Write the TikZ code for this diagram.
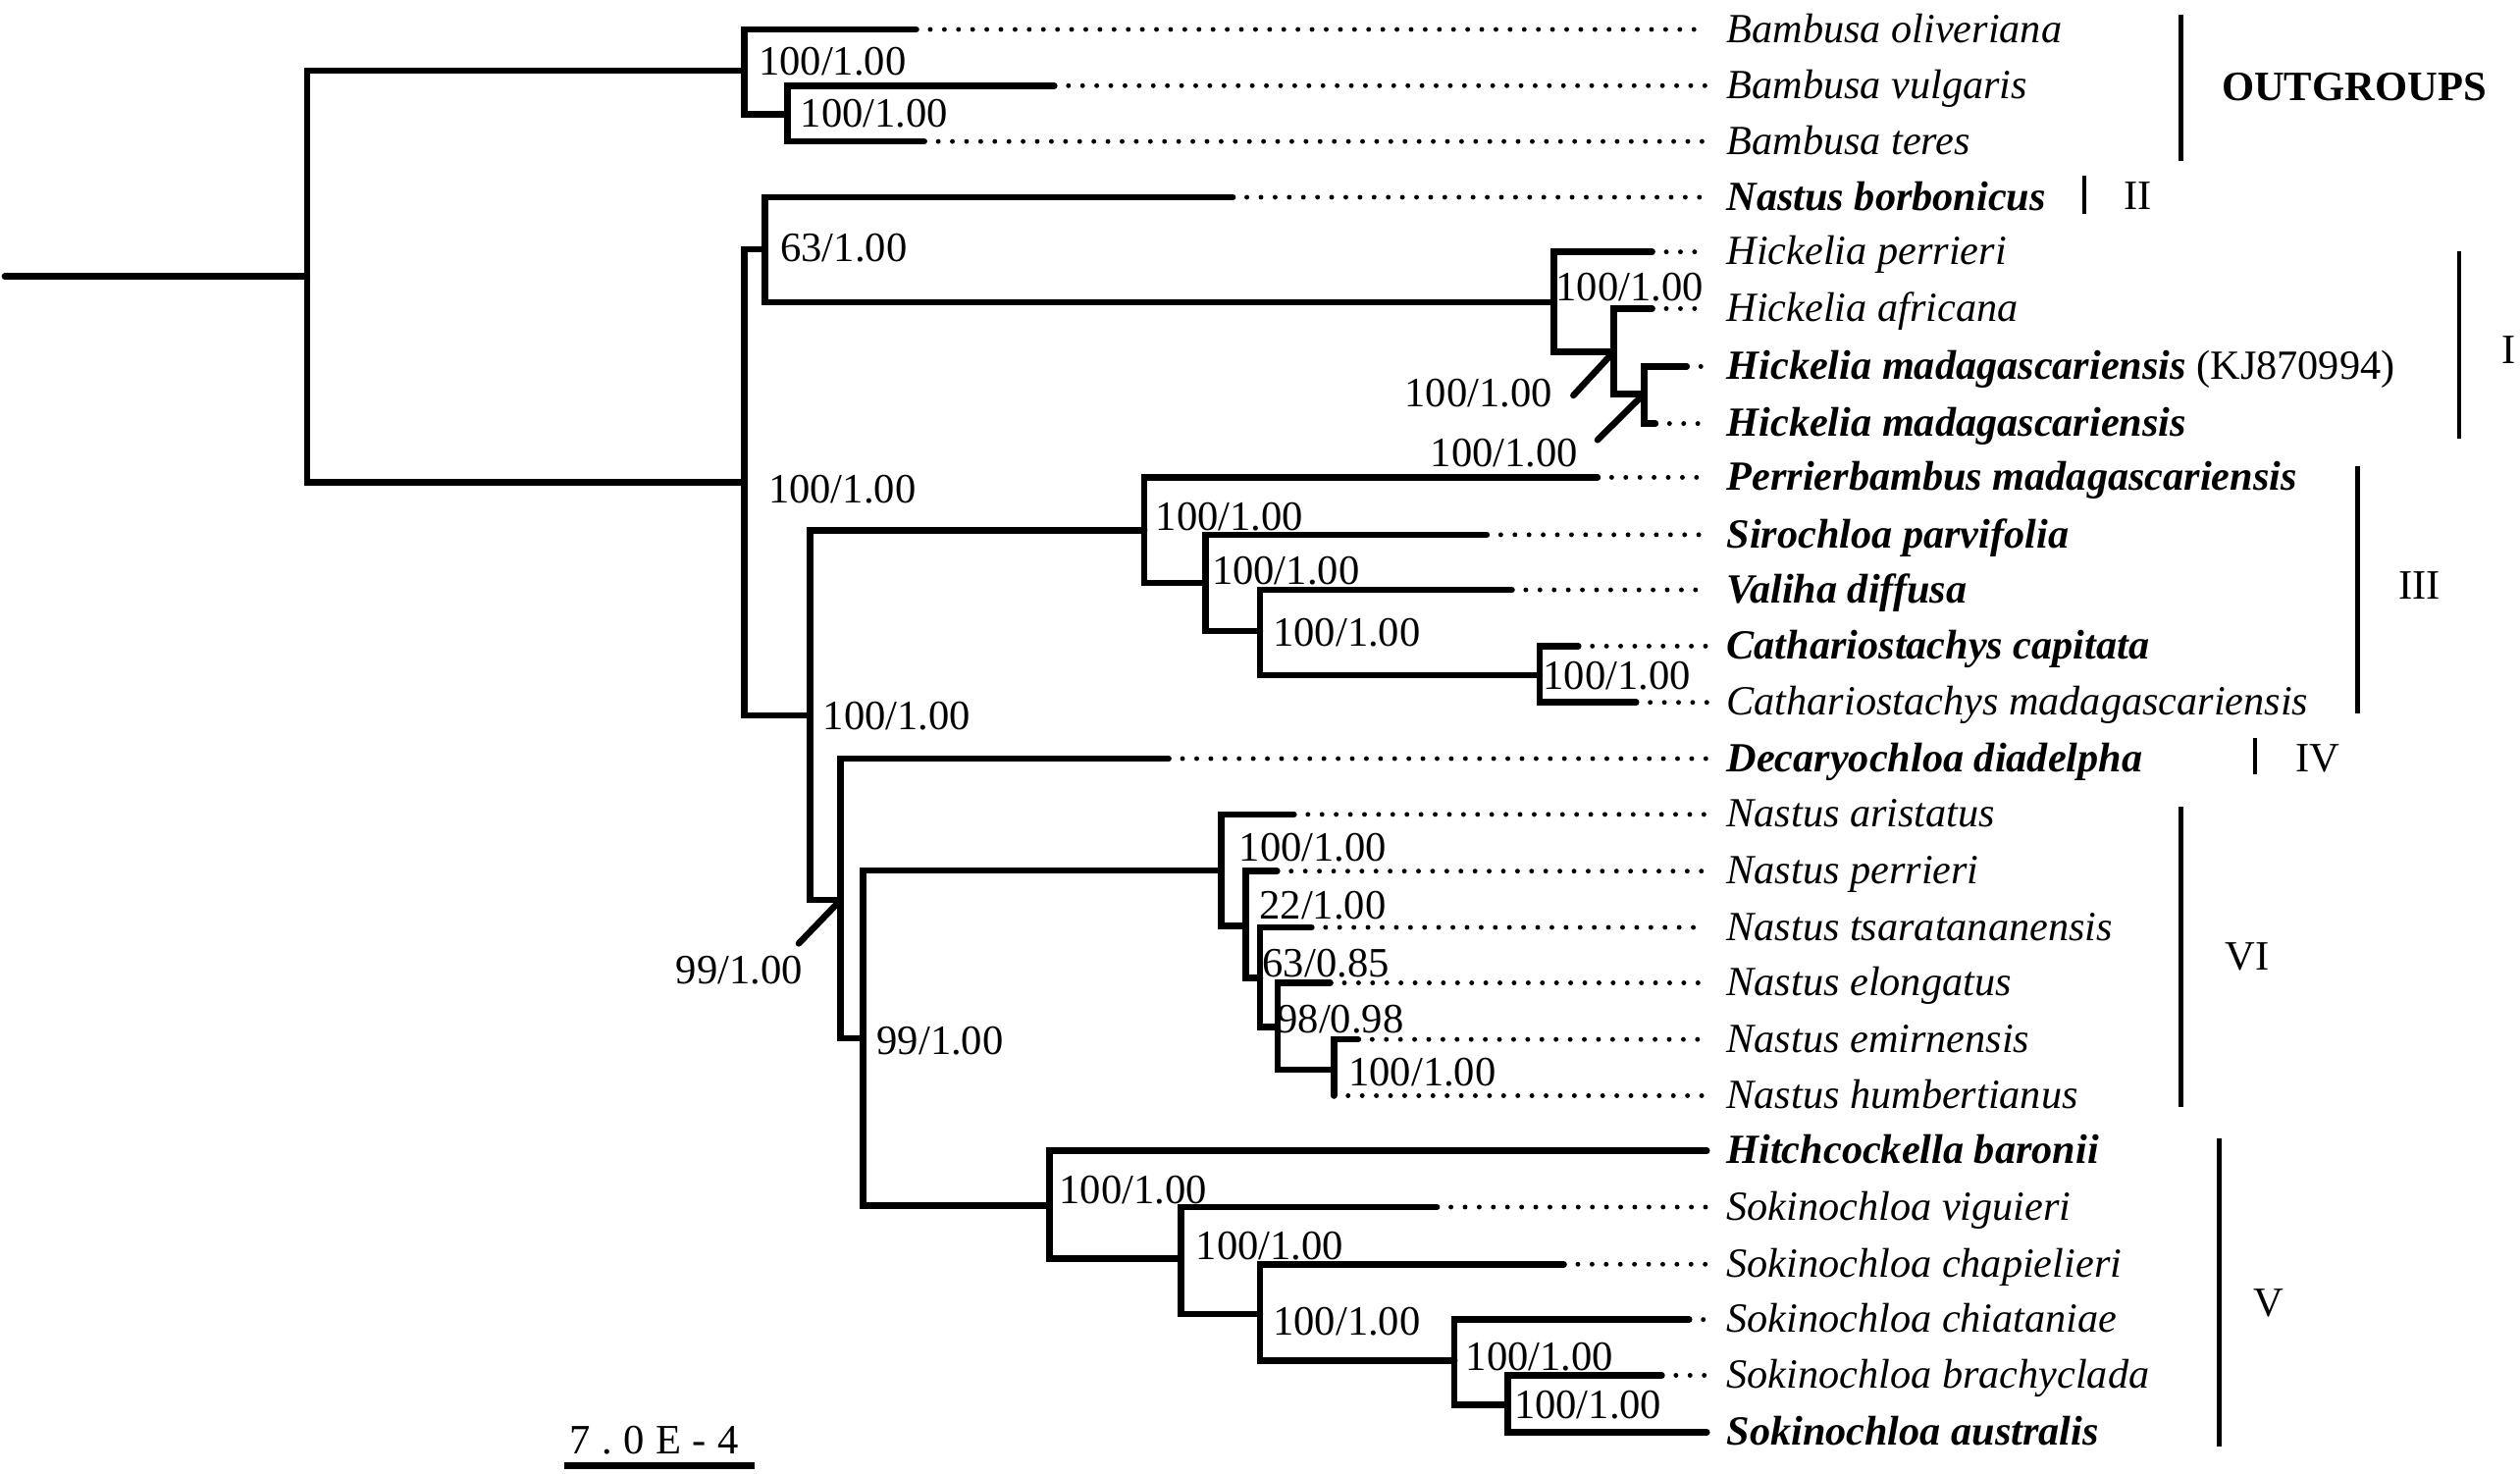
\documentclass[tikz,border=0pt]{standalone}
\usepackage{fontspec}
\setmainfont{Liberation Serif}
\usetikzlibrary{positioning}

\begin{document}
\begin{tikzpicture}[
    x=0.5pt, y=-0.5pt,
    branch/.style={line width=2pt, line cap=round},
    dots/.style={line width=1.5pt, line cap=round, dash pattern=on 0pt off 4.4pt},
    bar/.style={line width=1.4pt},
    taxon/.style={anchor=west, inner xsep=6pt, inner ysep=0pt, text height=10pt, text depth=2pt, font=\fontsize{12.9}{15}\selectfont\itshape},
    boot/.style={inner sep=0pt, text height=8.8pt, text depth=0pt, font=\fontsize{13}{15}\selectfont},
    group/.style={anchor=west, inner sep=0pt, font=\fontsize{13}{15}\selectfont}
]
\useasboundingbox (0,0) rectangle (1568,917);
% Taxa
\node[taxon] (t1) at (1062,18.3) {Bambusa oliveriana};
\node[taxon] (t2) at (1062,53.3) {Bambusa vulgaris};
\node[taxon] (t3) at (1062,88) {Bambusa teres};
\node[taxon] (t4) at (1062,122.7) {\textbf{Nastus borbonicus}};
\node[taxon] (t5) at (1062,156.7) {Hickelia perrieri};
\node[taxon] (t6) at (1062,192) {Hickelia africana};
\node[taxon] (t7) at (1062,228) {\textbf{Hickelia madagascariensis} \textup{(KJ870994)}};
\node[taxon] (t8) at (1062,263.5) {\textbf{Hickelia madagascariensis}};
\node[taxon] (t9) at (1062,297) {\textbf{Perrierbambus madagascariensis}};
\node[taxon] (t10) at (1062,332.7) {\textbf{Sirochloa parvifolia}};
\node[taxon] (t11) at (1062,367) {\textbf{Valiha diffusa}};
\node[taxon] (t12) at (1062,402) {\textbf{Cathariostachys capitata}};
\node[taxon] (t13) at (1062,437) {Cathariostachys madagascariensis};
\node[taxon] (t14) at (1062,472) {\textbf{Decaryochloa diadelpha}};
\node[taxon] (t15) at (1062,506.7) {Nastus aristatus};
\node[taxon] (t16) at (1062,542) {Nastus perrieri};
\node[taxon] (t17) at (1062,577) {Nastus tsaratananensis};
\node[taxon] (t18) at (1062,611.5) {Nastus elongatus};
\node[taxon] (t19) at (1062,646.7) {Nastus emirnensis};
\node[taxon] (t20) at (1062,681.7) {Nastus humbertianus};
\node[taxon] (t21) at (1062,716) {\textbf{Hitchcockella baronii}};
\node[taxon] (t22) at (1062,751) {Sokinochloa viguieri};
\node[taxon] (t23) at (1062,786.6) {Sokinochloa chapielieri};
\node[taxon] (t24) at (1062,821) {Sokinochloa chiataniae};
\node[taxon] (t25) at (1062,855.7) {Sokinochloa brachyclada};
\node[taxon] (t26) at (1062,891) {\textbf{Sokinochloa australis}};

% Internal nodes
\coordinate (r0) at (3,172);
\coordinate (nR) at (191,172);
\coordinate (nOut) at (463,44);
\coordinate (nB2) at (490,71);
\coordinate (nIn) at (463,300);
\coordinate (nA) at (476,155);
\coordinate (nH) at (967,188);
\coordinate (nH2) at (1004,219);
\coordinate (nH3) at (1023,245);
\coordinate (nB) at (504,445);
\coordinate (nIII) at (712,330);
\coordinate (nS) at (750,362.6);
\coordinate (nV) at (784,392.7);
\coordinate (nC) at (958,420);
\coordinate (nD) at (523,560);
\coordinate (nE) at (537,646);
\coordinate (nVI) at (760,541.6);
\coordinate (nN2) at (775,576);
\coordinate (nN3) at (784,608.5);
\coordinate (nN4) at (795,639);
\coordinate (nN5) at (830,665.5);
\coordinate (nVg) at (653,750);
\coordinate (nS2) at (735,783);
\coordinate (nS3) at (784,817.6);
\coordinate (nS4) at (905,846.6);
\coordinate (nS5) at (938,874);

% Branch ends
\coordinate (e1) at (570,18.3);
\coordinate (e2) at (656,53.3);
\coordinate (e3) at (575,88);
\coordinate (e4) at (767,122.7);
\coordinate (e5) at (1028,156.7);
\coordinate (e6) at (1028,192);
\coordinate (e7) at (1049.5,228);
\coordinate (e8) at (1030,263.5);
\coordinate (e9) at (994,297);
\coordinate (e10) at (925,332.7);
\coordinate (e11) at (940.6,367);
\coordinate (e12) at (982,402);
\coordinate (e13) at (1018,437);
\coordinate (e14) at (727,472);
\coordinate (e15) at (805,506.7);
\coordinate (e16) at (794.6,542);
\coordinate (e17) at (816,577);
\coordinate (e18) at (827.7,611.5);
\coordinate (e19) at (845,646.7);
\coordinate (e20) at (830,681.7);
\coordinate (e22) at (894,751);
\coordinate (e23) at (973,786.6);
\coordinate (e24) at (1051,821);
\coordinate (e25) at (1034,855.7);

% Root and outgroups
\draw[branch] (r0) -- (nR);
\draw[branch] (nR) |- (nOut);
\draw[branch] (nR) |- (nIn);
\draw[branch] (nOut) |- (e1);
\draw[branch] (nOut) |- (nB2);
\draw[branch] (nB2) |- (e2);
\draw[branch] (nB2) |- (e3);
% Clades II and I
\draw[branch] (nIn) |- (nA);
\draw[branch] (nA) |- (e4);
\draw[branch] (nA) |- (nH);
\draw[branch] (nH) |- (e5);
\draw[branch] (nH) |- (nH2);
\draw[branch] (nH2) |- (e6);
\draw[branch] (nH2) |- (nH3);
\draw[branch] (nH3) |- (e7);
\draw[branch] (nH3) |- (e8);
% Clade III
\draw[branch] (nIn) |- (nB);
\draw[branch] (nB) |- (nIII);
\draw[branch] (nIII) |- (e9);
\draw[branch] (nIII) |- (nS);
\draw[branch] (nS) |- (e10);
\draw[branch] (nS) |- (nV);
\draw[branch] (nV) |- (e11);
\draw[branch] (nV) |- (nC);
\draw[branch] (nC) |- (e12);
\draw[branch] (nC) |- (e13);
% Clades IV and VI
\draw[branch] (nB) |- (nD);
\draw[branch] (nD) |- (e14);
\draw[branch] (nD) |- (nE);
\draw[branch] (nE) |- (nVI);
\draw[branch] (nVI) |- (e15);
\draw[branch] (nVI) |- (nN2);
\draw[branch] (nN2) |- (e16);
\draw[branch] (nN2) |- (nN3);
\draw[branch] (nN3) |- (e17);
\draw[branch] (nN3) |- (nN4);
\draw[branch] (nN4) |- (e18);
\draw[branch] (nN4) |- (nN5);
\draw[branch] (nN5) |- (e19);
\draw[branch] (nN5) |- (e20);
% Clade V
\draw[branch] (nE) |- (nVg);
\draw[branch] (nVg) |- (t21.west);
\draw[branch] (nVg) |- (nS2);
\draw[branch] (nS2) |- (e22);
\draw[branch] (nS2) |- (nS3);
\draw[branch] (nS3) |- (e23);
\draw[branch] (nS3) |- (nS4);
\draw[branch] (nS4) |- (e24);
\draw[branch] (nS4) |- (nS5);
\draw[branch] (nS5) |- (e25);
\draw[branch] (nS5) |- (t26.west);

% Dotted leaders to the taxa
\foreach \i in {1,...,20,22,23,24,25}
    \draw[dots] (e\i) -- (t\i.west);

% Support values
\node[boot] (b1) at (518,38) {100/1.00};
\node[boot] (b2) at (544,70) {100/1.00};
\node[boot] (b3) at (525,154) {63/1.00};
\node[boot] (b4) at (1014,178.5) {100/1.00};
\node[boot] (b5) at (920,244) {100/1.00};
\node[boot] (b6) at (936,281.6) {100/1.00};
\node[boot] (b7) at (524,304) {100/1.00};
\node[boot] (b8) at (765,321) {100/1.00};
\node[boot] (b9) at (800,355) {100/1.00};
\node[boot] (b10) at (838,393) {100/1.00};
\node[boot] (b11) at (1006,420) {100/1.00};
\node[boot] (b12) at (558,445) {100/1.00};
\node[boot] (b13) at (460,603) {99/1.00};
\node[boot] (b14) at (585,647) {99/1.00};
\node[boot] (b15) at (817,527) {100/1.00};
\node[boot] (b16) at (823,563) {22/1.00};
\node[boot] (b17) at (825,599) {63/0.85};
\node[boot] (b18) at (834,634) {98/0.98};
\node[boot] (b19) at (885,667) {100/1.00};
\node[boot] (b20) at (705,740) {100/1.00};
\node[boot] (b21) at (790,775) {100/1.00};
\node[boot] (b22) at (838,822) {100/1.00};
\node[boot] (b23) at (958,844) {100/1.00};
\node[boot] (b24) at (988,873.5) {100/1.00};
% Pointers from nodes to their values
\coordinate (l5) at (979,246);
\coordinate (l6) at (994,273.7);
\coordinate (l13) at (497,587);
\draw[branch] (nH2) -- (l5);
\draw[branch] (nH3) -- (l6);
\draw[branch] (nD) -- (l13);

% Group bars
\draw[bar] (1357,9) -- (1357,100);
\draw[bar] (1297,109) -- (1297,133);
\draw[bar] (1530,156) -- (1530,273);
\draw[bar] (1467,290) -- (1467,444);
\draw[bar] (1403,459) -- (1403,482);
\draw[bar] (1357,502) -- (1357,689);
\draw[bar] (1381,708) -- (1381,900);
\node[group] (gOut) at (1382,54) {\textbf{OUTGROUPS}};
\node[group] (gII) at (1321,122) {II};
\node[group] (gI) at (1556,218) {I};
\node[group] (gIII) at (1492,364.5) {III};
\node[group] (gIV) at (1428,472) {IV};
\node[group] (gVI) at (1384,595) {VI};
\node[group] (gV) at (1402,811) {V};

% Scale bar
\coordinate (s0) at (351,912);
\coordinate (s1) at (469.5,912);
\draw[branch, line cap=butt] (s0) -- (s1);
\node[boot, font=\fontsize{13}{15}\selectfont\addfontfeature{LetterSpace=27}] (sb) at (407,896) {7.0E-4};
\end{tikzpicture}
\end{document}
